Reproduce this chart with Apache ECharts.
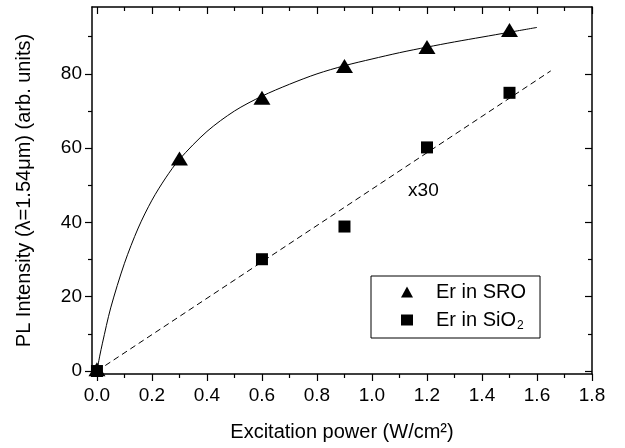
<!DOCTYPE html>
<html>
<head>
<meta charset="utf-8">
<script src="https://cdn.jsdelivr.net/npm/echarts@6/dist/echarts.min.js"></script>
<style>
  html, body { margin: 0; padding: 0; background: #fff; }
  #chart { width: 625px; height: 448px; }
</style>
</head>
<body>
<div id="chart"></div>
<script>
// measured points
const sroX = [0, 0.3, 0.6, 0.9, 1.2, 1.5]
const sroY = [0.5, 57.2, 73.6, 82.1, 87.2, 91.8]
const sio2X = [0, 0.6, 0.9, 1.2, 1.5]
const sio2Y = [0, 30.1, 38.9, 60.2, 74.9]

// fitted curves
const sroFitX = [0, 0.01, 0.02, 0.05, 0.1, 0.15, 0.2, 0.25, 0.3, 0.4, 0.5, 0.6, 0.7, 0.8, 0.9, 1.0, 1.1, 1.2, 1.3, 1.4, 1.5, 1.6]
const sroFitY = [0, 4, 7.5, 17, 29, 38.5, 46, 52, 57, 64.5, 70, 74, 77.2, 80, 82.2, 84, 85.7, 87.2, 88.6, 89.9, 91.2, 92.5]
const sio2FitX = [0, 1.65]
const sio2FitY = [0, 80.8]

// note text
const noteX = [1.187]
const noteY = [48.6]
const noteText = ['x30']

// axes
const xMin = -0.018, xMax = 1.8
const yMin = -0.8, yMax = 98
const xMajor = [0, 0.2, 0.4, 0.6, 0.8, 1.0, 1.2, 1.4, 1.6, 1.8]
const xMinor = [0.1, 0.3, 0.5, 0.7, 0.9, 1.1, 1.3, 1.5, 1.7]
const yMajor = [0, 20, 40, 60, 80]
const yMinor = [10, 30, 50, 70, 90]

const zip = (a, b) => a.map((v, i) => [v, b[i]])

const font = 'Liberation Sans, Arial, sans-serif'
const black = '#000'

function axis(extra) {
  return Object.assign({
    type: 'value',
    splitLine: {show: false},
    axisLine: {show: false, onZero: false, lineStyle: {color: black, width: 1.5}},
    axisTick: {show: false},
    axisLabel: {show: false},
  }, extra)
}

const chart = echarts.init(document.getElementById('chart'), null, {renderer: 'canvas'})

chart.setOption({
  animation: false,
  backgroundColor: '#fff',
  grid: {left: 92, right: 33, top: 7, bottom: 74, containLabel: false},
  xAxis: [
    axis({
      position: 'bottom', min: xMin, max: xMax,
      axisLine: {show: true, onZero: false, lineStyle: {color: black, width: 1.5}},
      axisTick: {show: true, inside: false, length: 7, customValues: xMajor, lineStyle: {color: black, width: 1.2}},
      axisLabel: {show: true, customValues: xMajor, margin: 12, color: black, fontSize: 19, fontFamily: font,
        formatter: v => v.toFixed(1)},
      name: 'Excitation power (W/cm\u00B2)', nameLocation: 'middle', nameGap: 48,
      nameTextStyle: {color: black, fontSize: 20, fontFamily: font}
    }),
    axis({position: 'bottom', min: xMin, max: xMax,
      axisTick: {show: true, inside: false, length: 4, customValues: xMinor, lineStyle: {color: black, width: 1.2}}}),
    axis({position: 'top', min: xMin, max: xMax,
      axisLine: {show: true, onZero: false, lineStyle: {color: black, width: 1.5}},
      axisTick: {show: true, inside: true, length: 7, customValues: xMajor, lineStyle: {color: black, width: 1.2}}}),
    axis({position: 'top', min: xMin, max: xMax,
      axisTick: {show: true, inside: true, length: 4, customValues: xMinor, lineStyle: {color: black, width: 1.2}}})
  ],
  yAxis: [
    axis({
      position: 'left', min: yMin, max: yMax,
      axisLine: {show: true, onZero: false, lineStyle: {color: black, width: 1.5}},
      axisTick: {show: true, inside: false, length: 7, customValues: yMajor, lineStyle: {color: black, width: 1.2}},
      axisLabel: {show: true, customValues: yMajor, margin: 10, color: black, fontSize: 19, fontFamily: font},
      name: 'PL Intensity (\u03BB=1.54\u03BCm) (arb. units)', nameLocation: 'middle', nameGap: 58,
      nameTextStyle: {color: black, fontSize: 20, fontFamily: font}
    }),
    axis({position: 'left', min: yMin, max: yMax,
      axisTick: {show: true, inside: false, length: 4, customValues: yMinor, lineStyle: {color: black, width: 1.2}}}),
    axis({position: 'right', min: yMin, max: yMax,
      axisLine: {show: true, onZero: false, lineStyle: {color: black, width: 1.5}},
      axisTick: {show: true, inside: true, length: 7, customValues: yMajor, lineStyle: {color: black, width: 1.2}}}),
    axis({position: 'right', min: yMin, max: yMax,
      axisTick: {show: true, inside: true, length: 4, customValues: yMinor, lineStyle: {color: black, width: 1.2}}})
  ],
  legend: {
    orient: 'vertical',
    left: 371, top: 276,
    padding: [6, 14, 6, 30],
    itemGap: 6,
    itemWidth: 12, itemHeight: 11,
    borderColor: black, borderWidth: 1,
    backgroundColor: '#fff',
    data: [
      {name: 'Er in SRO', icon: 'triangle'},
      {name: 'Er in SiO2', icon: 'rect'}
    ],
    formatter: name => name === 'Er in SiO2' ? '{t|Er in SiO}{s|2}' : '{t|' + name + '}',
    textStyle: {
      color: black, fontFamily: font,
      rich: {
        t: {fontSize: 20, fontFamily: font, color: black, lineHeight: 22, padding: [0, 0, 0, 18]},
        s: {fontSize: 12, fontFamily: font, color: black, lineHeight: 12, padding: [12, 0, 0, 1]}
      }
    }
  },
  series: [
    {
      name: 'SRO fit', type: 'line', smooth: 0.3, symbol: 'none',
      lineStyle: {color: black, width: 1}, data: zip(sroFitX, sroFitY), z: 2
    },
    {
      name: 'SiO2 fit', type: 'line', symbol: 'none',
      lineStyle: {color: black, width: 1, type: [6, 4]}, data: zip(sio2FitX, sio2FitY), z: 2
    },
    {
      name: 'Er in SRO', type: 'scatter', symbol: 'triangle', symbolSize: [17, 14],
      itemStyle: {color: black, opacity: 1}, data: zip(sroX, sroY), z: 3
    },
    {
      name: 'Er in SiO2', type: 'scatter', symbol: 'rect', symbolSize: 12,
      itemStyle: {color: black, opacity: 1}, data: zip(sio2X, sio2Y), z: 3
    },
    {
      name: 'note', type: 'scatter', symbolSize: 0, silent: true,
      itemStyle: {opacity: 1},
      data: zip(noteX, noteY).map((p, i) => ({value: p, label: {formatter: noteText[i]}})),
      label: {show: true, position: 'inside', color: black, fontSize: 19, fontFamily: font}
    }
  ]
})
</script>
</body>
</html>
